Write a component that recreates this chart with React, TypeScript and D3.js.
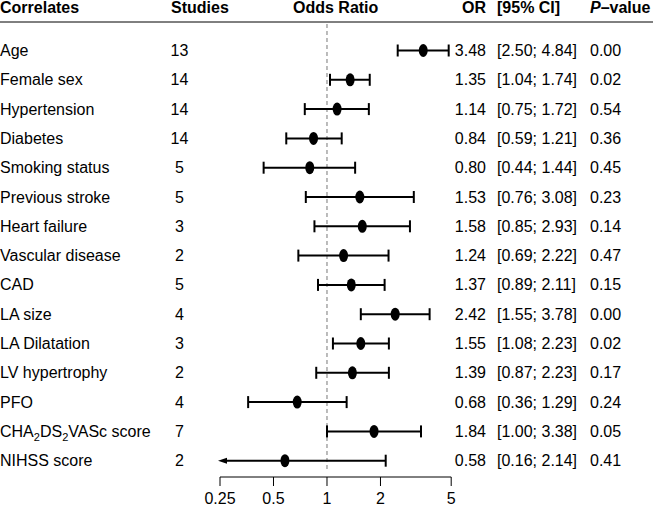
import React from "react";
import * as d3 from "d3";

const correlates = [
  "Age", "Female sex", "Hypertension", "Diabetes", "Smoking status", "Previous stroke",
  "Heart failure", "Vascular disease", "CAD", "LA size", "LA Dilatation", "LV hypertrophy",
  "PFO", "CHA2DS2VASc score", "NIHSS score",
];
const studies = [13, 14, 14, 14, 5, 5, 3, 2, 5, 4, 3, 2, 4, 7, 2];
const orValues = [3.48, 1.35, 1.14, 0.84, 0.8, 1.53, 1.58, 1.24, 1.37, 2.42, 1.55, 1.39, 0.68, 1.84, 0.58];
const ciLower = [2.5, 1.04, 0.75, 0.59, 0.44, 0.76, 0.85, 0.69, 0.89, 1.55, 1.08, 0.87, 0.36, 1.0, 0.16];
const ciUpper = [4.84, 1.74, 1.72, 1.21, 1.44, 3.08, 2.93, 2.22, 2.11, 3.78, 2.23, 2.23, 1.29, 3.38, 2.14];
const pValues = [0.0, 0.02, 0.54, 0.36, 0.45, 0.23, 0.14, 0.47, 0.15, 0.0, 0.02, 0.17, 0.24, 0.05, 0.41];
const axisTicks = [0.25, 0.5, 1, 2, 5];
const axisTickLabels = ["0.25", "0.5", "1", "2", "5"];

const W = 653;
const H = 513;
const FONT = "'Liberation Sans', Arial, Helvetica, sans-serif";

export default function App() {
  const x = d3.scaleLog().domain([0.25, 5]).range([220, 451.2]);
  const y = d3
    .scaleLinear()
    .domain([0, correlates.length - 1])
    .range([50.5, 50.5 + 29.3 * (correlates.length - 1)]);
  const fmt = d3.format(".2f");
  const capH = 6;

  const renderLabel = (s: string) => {
    if (s === "CHA2DS2VASc score") {
      return (
        <>
          CHA<tspan fontSize={11} dy={4}>2</tspan>
          <tspan dy={-4}>DS</tspan>
          <tspan fontSize={11} dy={4}>2</tspan>
          <tspan dy={-4}>VASc score</tspan>
        </>
      );
    }
    return s;
  };

  const axisY = 477;

  return (
    <svg
      width={W}
      height={H}
      style={{ position: "absolute", left: 0, top: 0, background: "#fff" }}
      fontFamily={FONT}
      fontSize={16}
    >
      {/* headers */}
      <g fontWeight="bold">
        <text x={0} y={13}>Correlates</text>
        <text x={171} y={13}>Studies</text>
        <text x={293} y={13}>Odds Ratio</text>
        <text x={486} y={13} textAnchor="end">OR</text>
        <text x={497} y={13}>[95% CI]</text>
        <text x={590} y={13}>
          <tspan fontStyle="italic">P</tspan>–value
        </text>
      </g>
      <line x1={0} x2={W} y1={22} y2={22} stroke="#000" strokeWidth={1} />

      {/* reference line */}
      <line
        x1={x(1)}
        x2={x(1)}
        y1={24}
        y2={472}
        stroke="#777"
        strokeWidth={1}
        strokeDasharray="4,3"
      />

      {correlates.map((c, i) => {
        const cy = y(i);
        const ty = cy + 5.5;
        const lo = ciLower[i];
        const hi = ciUpper[i];
        const clipped = lo < x.domain()[0];
        const x1 = clipped ? x(x.domain()[0]) - 2 : x(lo);
        const x2 = x(hi);
        return (
          <g key={c}>
            <text x={0} y={ty}>{renderLabel(c)}</text>
            <text x={179.5} y={ty} textAnchor="middle">{studies[i]}</text>
            <line x1={clipped ? x1 + 6 : x1} x2={x2} y1={cy} y2={cy} stroke="#000" strokeWidth={2} />
            {!clipped && (
              <line x1={x1} x2={x1} y1={cy - capH} y2={cy + capH} stroke="#000" strokeWidth={2} />
            )}
            {clipped && (
              <path
                d={`M${x1},${cy} L${x1 + 9},${cy - 3} L${x1 + 9},${cy + 3} Z`}
                fill="#000"
              />
            )}
            <line x1={x2} x2={x2} y1={cy - capH} y2={cy + capH} stroke="#000" strokeWidth={2} />
            <ellipse cx={x(orValues[i])} cy={cy} rx={4.5} ry={6.5} fill="#000" />
            <text x={486} y={ty} textAnchor="end">{fmt(orValues[i])}</text>
            <text x={497} y={ty}>{`[${fmt(lo)}; ${fmt(hi)}]`}</text>
            <text x={590} y={ty}>{fmt(pValues[i])}</text>
          </g>
        );
      })}

      {/* axis */}
      <line x1={x(0.25)} x2={x(5)} y1={axisY} y2={axisY} stroke="#000" strokeWidth={1} />
      {axisTicks.map((t, i) => (
        <g key={t}>
          <line x1={x(t)} x2={x(t)} y1={axisY} y2={axisY + 9} stroke="#000" strokeWidth={1} />
          <text x={x(t)} y={504} textAnchor="middle">{axisTickLabels[i]}</text>
        </g>
      ))}
    </svg>
  );
}
